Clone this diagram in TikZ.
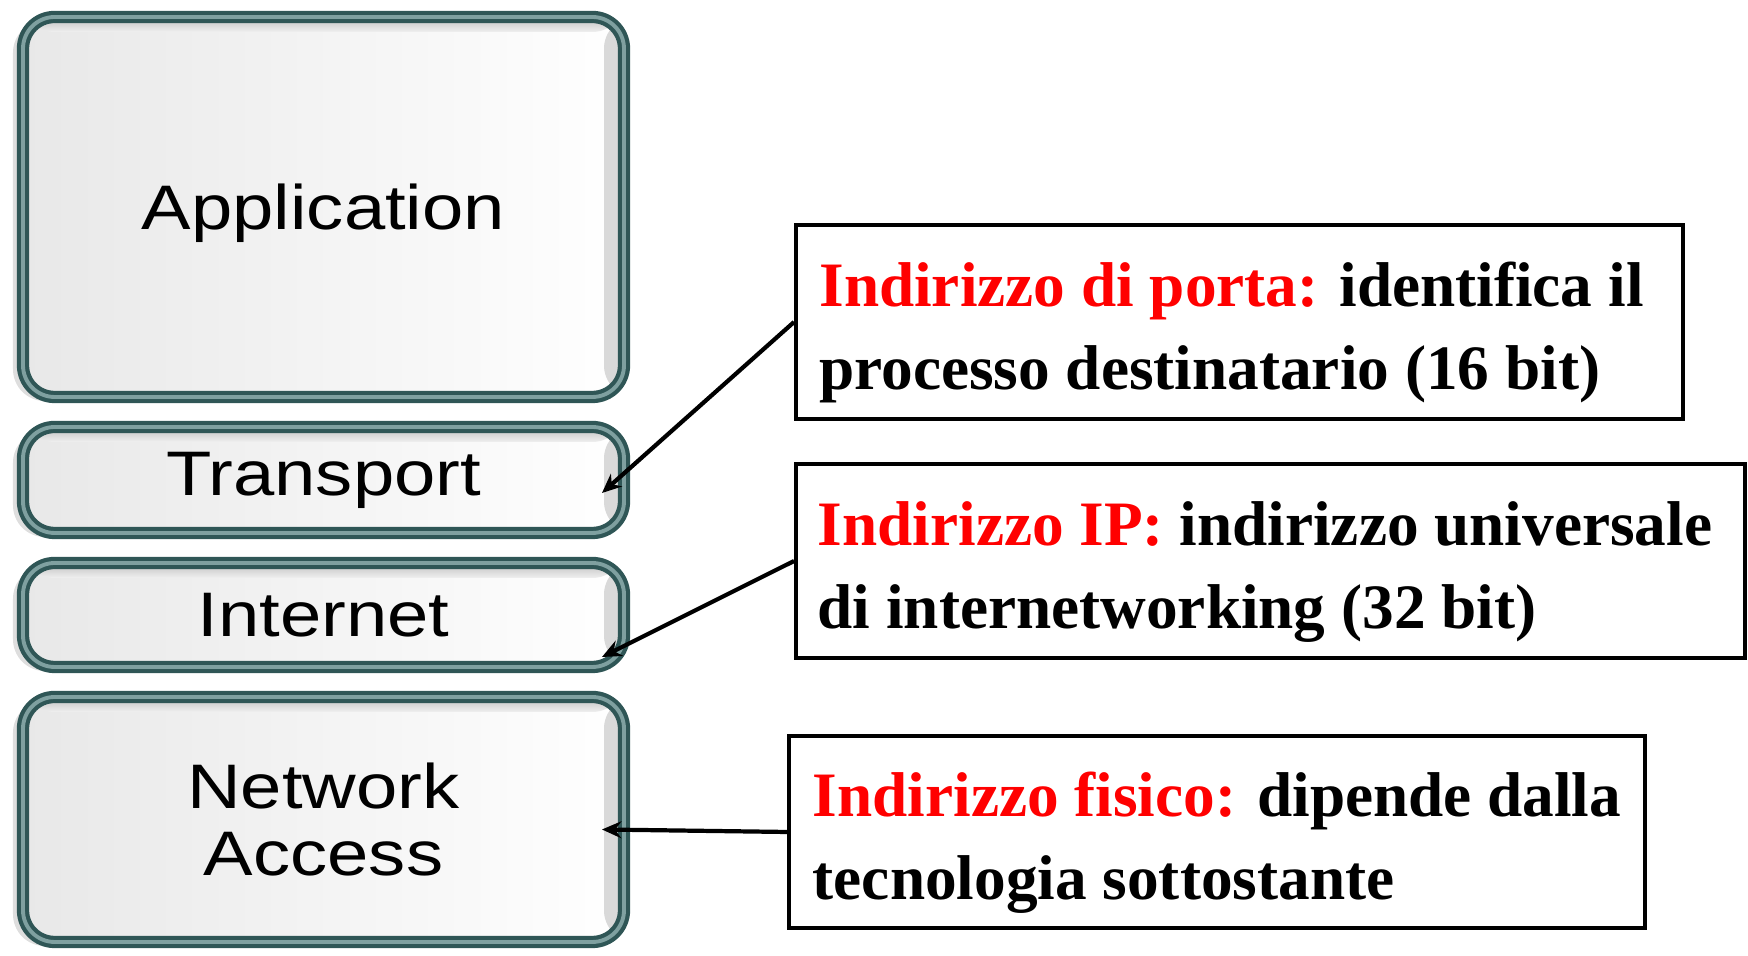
\documentclass[tikz,border=0pt]{standalone}
\usepackage{fontspec}
\usepackage{tikz}
\usetikzlibrary{positioning, arrows.meta, shadows}
\newfontfamily\layerfont{Liberation Sans}[FakeStretch=1.18]
\newfontfamily\notefont{Liberation Serif}
\definecolor{tealdark}{HTML}{2F5656}
\definecolor{teallight}{HTML}{7FA0A0}
\tikzstyle{layer} = [rectangle, rounded corners=9pt, draw=tealdark, double=teallight, line width=1.2pt, double distance=1.1pt, left color=black!9, right color=white, minimum width=6.01cm, inner sep=0pt, outer sep=0pt, align=center, font=\layerfont\fontsize{17.9pt}{19.3pt}\selectfont, drop shadow={shadow xshift=-0.1cm, shadow yshift=-0.04cm, fill=black!13, opacity=1}, path picture={\fill[black!15] ([xshift=-0.2cm]path picture bounding box.north east) rectangle (path picture bounding box.south east); \shade[top color=black!25, bottom color=black!6] (path picture bounding box.north west) rectangle ([yshift=-0.15cm]path picture bounding box.north east);}]
\tikzstyle{note} = [rectangle, draw=black, line width=1.1pt, inner sep=0pt, align=left, font=\notefont\bfseries\fontsize{18pt}{23.6pt}\selectfont]
\tikzstyle{arrow} = [line width=1.2pt,->,>={Stealth[length=5.5pt,width=4.8pt]}]

\begin{document}
\begin{tikzpicture}[node distance=0.3cm]
\useasboundingbox (0,0) rectangle (17.48,9.56);

\node (app) [layer, minimum height=3.80cm, text depth=0pt] at (3.235,7.49) {Application};
\node (trans) [layer, minimum height=1.06cm, below=of app] {Transport};
\node (inet) [layer, minimum height=1.04cm, below=of trans] {Internet};
\node (netacc) [layer, minimum height=2.45cm, below=of inet] {Network\\Access};

\node (port) [note, minimum width=8.87cm, minimum height=1.94cm] at (12.395,6.34) {\rule{0pt}{0.66cm}\textcolor{red}{Indirizzo di porta:} identifica il\hspace*{0.16cm}\\processo destinatario (16 bit)};
\node (ip) [note, minimum width=9.49cm, minimum height=1.94cm] at (12.705,3.95) {\rule{0pt}{0.66cm}\textcolor{red}{Indirizzo IP:} indirizzo universale\hspace*{0.11cm}\\di internetworking (32 bit)};
\node (phys) [note, minimum width=8.56cm, minimum height=1.92cm] at (12.17,1.24) {\rule{0pt}{0.66cm}\textcolor{red}{Indirizzo fisico:} dipende dalla\\tecnologia sottostante};

\draw [arrow] (port.west) -- ([xshift=-0.22cm, yshift=-0.13cm]trans.east);
\draw [arrow] (ip.west) -- ([xshift=-0.22cm, yshift=-0.42cm]inet.east);
\draw [arrow] (phys.west) -- ([xshift=-0.22cm, yshift=-0.1cm]netacc.east);

\end{tikzpicture}
\end{document}
